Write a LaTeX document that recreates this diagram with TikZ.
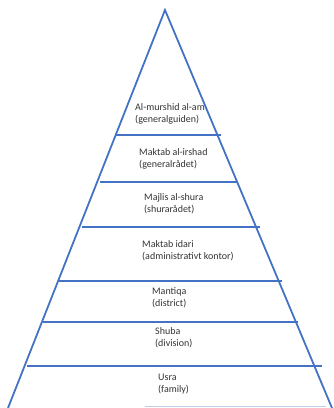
\documentclass[tikz,border=0pt]{standalone}
\usepackage{fontspec}
\setmainfont{Carlito}
\usetikzlibrary{positioning}
\definecolor{pyrblue}{RGB}{68,114,196}

\begin{document}
\begin{tikzpicture}[x=1pt, y=-1pt,
  kante/.style={draw=pyrblue, line width=1.8pt},
  stufe/.style={draw=pyrblue, line width=1.3pt},
  etikett/.style={anchor=west, align=left, font=\fontsize{10}{12}\selectfont, text=black!80, inner sep=0pt}]
\useasboundingbox (0,0) rectangle (334,408); % Groesse wie Vorlage

% Eckpunkte der Pyramide
\coordinate (top) at (165,10);
\coordinate (bl) at (8,408);
\coordinate (br) at (332,408);
\draw[kante] (bl) -- (top) -- (br);
\draw[pyrblue!35, line width=1.3pt] (145,406.5) -- (326,406.5); % Grundlinie (blass)

% Ebenen
\foreach \y/\xa/\xb [count=\i] in {135/115/221, 182/100/238, 227/82/260, 281/59/282, 322/43/298, 366/27/322} {
  \coordinate (l\i) at (\xa,\y);
  \coordinate (r\i) at (\xb,\y);
  \draw[stufe] (l\i) -- (r\i);
}

% Beschriftungen
\node[etikett] (murshid) at (135,114) {Al-murshid al-am\\(generalguiden)};
\node[etikett] (irshad) at (139,159) {Maktab al-irshad\\(generalrådet)};
\node[etikett] (shura) at (144,204) {Majlis al-shura\\(shurarådet)};
\node[etikett] (idari) at (142,251) {Maktab idari\\(administrativt kontor)};
\node[etikett] (mantiqa) at (152,298) {Mantiqa\\(district)};
\node[etikett] (shuba) at (155,338) {Shuba\\(division)};
\node[etikett] (usra) at (158,384) {Usra\\(family)};

\end{tikzpicture}
\end{document}
